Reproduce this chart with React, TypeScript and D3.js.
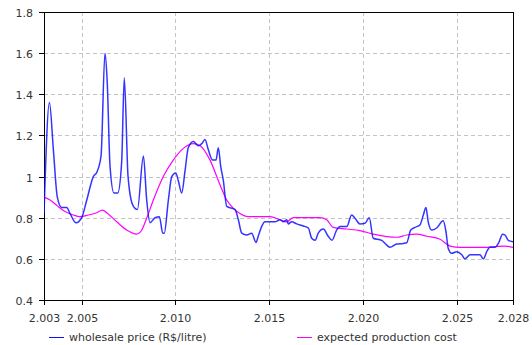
import React, { useEffect, useRef } from "react";
import * as d3 from "d3";

const yTicks = [0.4, 0.6, 0.8, 1.0, 1.2, 1.4, 1.6, 1.8];
const yTickLabels = ["0.4", "0.6", "0.8", "1", "1.2", "1.4", "1.6", "1.8"];
const xTicks = [2003, 2005, 2010, 2015, 2020, 2025, 2028];
const xTickLabels = ["2.003", "2.005", "2.010", "2.015", "2.020", "2.025", "2.028"];
const seriesNames = ["wholesale price (R$/litre)", "expected production cost"];

const priceYears = [
  2003.0, 2003.29, 2003.5, 2003.71, 2003.94, 2004.21, 2004.39, 2004.71, 2005.01, 2005.28,
  2005.63, 2005.81, 2006.04, 2006.25, 2006.37, 2006.52, 2006.73, 2006.93, 2007.14, 2007.28,
  2007.48, 2007.74, 2007.98, 2008.3, 2008.47, 2008.65, 2008.92, 2009.15, 2009.33, 2009.41,
  2009.63, 2009.81, 2010.02, 2010.16, 2010.34, 2010.52, 2010.69, 2010.96, 2011.23, 2011.41,
  2011.58, 2011.76, 2011.99, 2012.17, 2012.29, 2012.42, 2012.56, 2012.74, 2013.18, 2013.36,
  2013.54, 2013.81, 2014.07, 2014.3, 2014.42, 2014.6, 2014.78, 2015.05, 2015.31, 2015.58,
  2015.76, 2015.94, 2016.02, 2016.2, 2016.47, 2016.82, 2017.09, 2017.27, 2017.45, 2017.62,
  2017.89, 2018.15, 2018.35, 2018.6, 2018.78, 2019.14, 2019.4, 2019.58, 2019.84, 2020.11,
  2020.34, 2020.55, 2021.0, 2021.27, 2021.44, 2021.8, 2022.15, 2022.33, 2022.55, 2022.78,
  2023.04, 2023.22, 2023.36, 2023.48, 2023.67, 2023.93, 2024.28, 2024.43, 2024.55, 2024.73,
  2025.0, 2025.27, 2025.44, 2025.71, 2026.24, 2026.42, 2026.6, 2026.77, 2027.04, 2027.22,
  2027.45, 2027.57, 2027.75, 2028.0,
];
const priceValues = [
  0.82, 1.36, 1.13, 0.9, 0.85, 0.85, 0.82, 0.775, 0.8, 0.886,
  1.0, 1.02, 1.1, 1.6, 1.46, 1.05, 0.92, 0.92, 1.07, 1.48,
  1.0, 0.86, 0.84, 1.1, 0.89, 0.776, 0.8, 0.805, 0.725, 0.725,
  0.886, 1.0, 1.017, 0.98, 0.92, 1.03, 1.14, 1.17, 1.15, 1.16,
  1.18, 1.13, 1.08, 1.08, 1.14, 1.05, 0.98, 0.855, 0.84, 0.79,
  0.725, 0.716, 0.725, 0.68, 0.71, 0.757, 0.78, 0.78, 0.78, 0.79,
  0.78, 0.79, 0.77, 0.78, 0.77, 0.76, 0.75, 0.7, 0.69, 0.725,
  0.745, 0.71, 0.69, 0.74, 0.757, 0.757, 0.813, 0.797, 0.77, 0.773,
  0.8, 0.7, 0.69, 0.667, 0.656, 0.672, 0.675, 0.678, 0.74, 0.753,
  0.765, 0.813, 0.85, 0.78, 0.74, 0.75, 0.785, 0.73, 0.65, 0.627,
  0.635, 0.62, 0.6, 0.62, 0.62, 0.6, 0.635, 0.656, 0.656, 0.675,
  0.72, 0.716, 0.69, 0.683,
];

const costYears = [
  2003.0, 2003.32, 2003.68, 2004.12, 2004.56, 2004.92, 2005.36, 2005.81, 2006.13, 2006.34,
  2006.88, 2007.41, 2007.94, 2008.21, 2008.47, 2008.83, 2009.36, 2009.89, 2010.43, 2010.96,
  2011.32, 2011.85, 2012.38, 2012.74, 2013.09, 2013.45, 2013.89, 2015.05, 2015.58, 2015.94,
  2016.29, 2017.71, 2018.07, 2018.42, 2019.14, 2019.84, 2020.55, 2021.27, 2021.8, 2022.33,
  2022.87, 2023.4, 2024.11, 2024.65, 2025.18, 2026.6, 2027.13, 2027.57, 2028.0,
];
const costValues = [
  0.9, 0.886, 0.86, 0.83, 0.813, 0.805, 0.813, 0.824, 0.837, 0.824,
  0.78, 0.74, 0.72, 0.74, 0.797, 0.886, 1.0, 1.08, 1.137, 1.16,
  1.15, 1.08, 0.96, 0.886, 0.846, 0.82, 0.805, 0.805, 0.79, 0.78,
  0.8, 0.8, 0.79, 0.753, 0.745, 0.737, 0.72, 0.708, 0.705, 0.716,
  0.72, 0.71, 0.695, 0.662, 0.656, 0.656, 0.66, 0.662, 0.656,
];

const W = 532;
const H = 345;
const M = { left: 44, right: 513, top: 12, bottom: 300 };
const FONT = "'DejaVu Sans', Verdana, sans-serif";

export default function App() {
  const ref = useRef<SVGSVGElement>(null);

  useEffect(() => {
    document.body.style.margin = "0";
    const svg = d3.select(ref.current);
    svg.selectAll("*").remove();

    const x = d3.scaleLinear().domain([2003, 2028]).range([M.left, M.right]);
    const y = d3.scaleLinear().domain([0.4, 1.8]).range([M.bottom, M.top]);

    svg.append("rect").attr("width", W).attr("height", H).attr("fill", "#fff");

    const grid = svg.append("g").attr("stroke", "#c4c4c4").attr("stroke-width", 1).attr("stroke-dasharray", "4,3");
    yTicks.slice(1, -1).forEach((t) => {
      grid.append("line").attr("x1", M.left).attr("x2", M.right)
        .attr("y1", Math.round(y(t)) + 0.5).attr("y2", Math.round(y(t)) + 0.5);
    });
    xTicks.slice(1, -1).forEach((t) => {
      grid.append("line").attr("y1", M.top).attr("y2", M.bottom)
        .attr("x1", Math.round(x(t)) + 0.5).attr("x2", Math.round(x(t)) + 0.5);
    });

    // frame
    svg.append("rect")
      .attr("x", M.left + 0.5).attr("y", M.top + 0.5)
      .attr("width", M.right - M.left).attr("height", M.bottom - M.top)
      .attr("fill", "none").attr("stroke", "#000").attr("stroke-width", 1);

    // y axis ticks and labels
    const ya = svg.append("g");
    yTicks.forEach((t, i) => {
      const py = Math.round(y(t)) + 0.5;
      ya.append("line").attr("x1", M.left - 5).attr("x2", M.left).attr("y1", py).attr("y2", py).attr("stroke", "#000");
      ya.append("text").attr("x", 33).attr("y", py + 4).attr("text-anchor", "end")
        .attr("font-family", FONT).attr("font-size", 11).attr("fill", "#333").text(yTickLabels[i]);
    });

    // x axis ticks and labels
    const xa = svg.append("g");
    xTicks.forEach((t, i) => {
      const px = Math.round(x(t)) + 0.5;
      xa.append("line").attr("x1", px).attr("x2", px).attr("y1", M.bottom).attr("y2", M.bottom + 5).attr("stroke", "#000");
      xa.append("text").attr("x", px).attr("y", 322).attr("text-anchor", "middle")
        .attr("font-family", FONT).attr("font-size", 11).attr("fill", "#333").text(xTickLabels[i]);
    });

    const line = d3.line<[number, number]>()
      .x((d) => x(d[0])).y((d) => y(d[1]))
      .curve(d3.curveMonotoneX);

    const clip = svg.append("defs").append("clipPath").attr("id", "plotclip");
    clip.append("rect").attr("x", M.left).attr("y", M.top).attr("width", M.right - M.left).attr("height", M.bottom - M.top);

    const plot = svg.append("g").attr("clip-path", "url(#plotclip)");
    const costData = costYears.map((yr, i) => [yr, costValues[i]] as [number, number]);
    const priceData = priceYears.map((yr, i) => [yr, priceValues[i]] as [number, number]);

    plot.append("path").attr("d", line(costData)).attr("fill", "none")
      .attr("stroke", "#ff00ff").attr("stroke-width", 1.2);
    plot.append("path").attr("d", line(priceData)).attr("fill", "none")
      .attr("stroke", "#1010ff").attr("stroke-width", 1.5).attr("stroke-opacity", 0.85);

    // legend
    const leg = svg.append("g");
    const items = [
      { x0: 49, color: "#1010ff", label: seriesNames[0] },
      { x0: 297, color: "#ff00ff", label: seriesNames[1] },
    ];
    items.forEach((it) => {
      leg.append("line").attr("x1", it.x0).attr("x2", it.x0 + 15).attr("y1", 337.5).attr("y2", 337.5)
        .attr("stroke", it.color).attr("stroke-width", 1);
      leg.append("text").attr("x", it.x0 + 20).attr("y", 341).attr("font-family", FONT)
        .attr("font-size", 11).attr("fill", "#333").text(it.label);
    });
  }, []);

  return (
    <svg ref={ref} width={W} height={H} style={{ position: "absolute", left: 0, top: 0 }} />
  );
}
